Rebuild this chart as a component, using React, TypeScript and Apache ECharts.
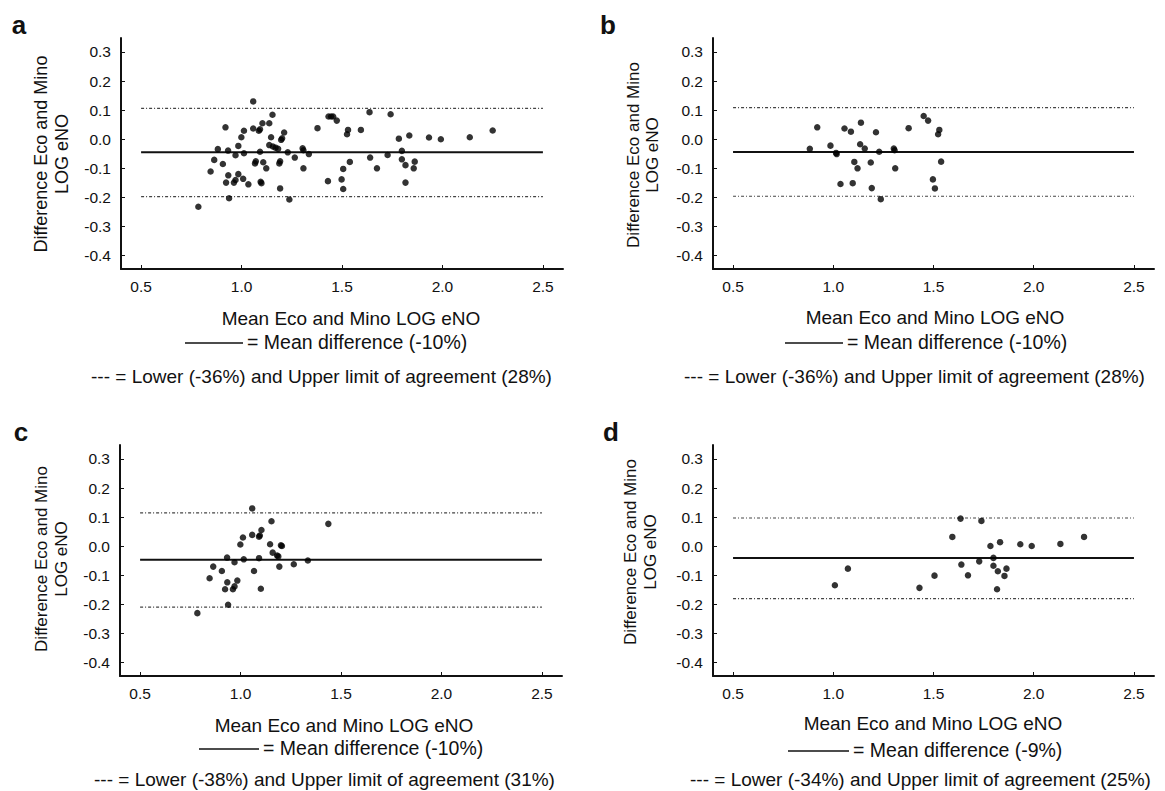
import React, { useEffect, useRef } from "react";
import * as echarts from "echarts";

const FONT = '"Liberation Sans", Arial, Helvetica, sans-serif';

// Tick values
const xTicks = [0.5, 1.0, 1.5, 2.0, 2.5];
const yTicks = [-0.4, -0.3, -0.2, -0.1, 0.0, 0.1, 0.2, 0.3];

// Panel letters and texts
const panelLetters = ["a", "b", "c", "d"];
const xAxisTitle = "Mean Eco and Mino LOG eNO";
const yAxisTitle = "Difference Eco and Mino\nLOG eNO";
const meanLabels = [
  "= Mean difference (-10%)",
  "= Mean difference (-10%)",
  "= Mean difference (-10%)",
  "= Mean difference (-9%)",
];
const limitLabels = [
  "--- = Lower (-36%) and Upper limit of agreement (28%)",
  "--- = Lower (-36%) and Upper limit of agreement (28%)",
  "--- = Lower (-38%) and Upper limit of agreement (31%)",
  "--- = Lower (-34%) and Upper limit of agreement (25%)",
];

// Mean difference and limits of agreement (log scale)
const meanDiff = [-0.045, -0.044, -0.046, -0.040];
const upperLimit = [0.106, 0.109, 0.115, 0.097];
const lowerLimit = [-0.197, -0.196, -0.209, -0.180];
const lineRange = [0.5, 2.5];

// Scatter points [mean, difference]
const pointsA = [
  [0.785, -0.232], [0.846, -0.111], [0.864, -0.071], [0.882, -0.034], [0.907, -0.085],
  [0.920, 0.041], [0.923, -0.149], [0.934, -0.124], [0.933, -0.039], [0.938, -0.203],
  [0.962, -0.149], [0.970, -0.140], [0.970, -0.055], [0.984, -0.023], [0.984, -0.120],
  [0.999, 0.007], [1.008, -0.136], [1.012, 0.029], [1.012, -0.048], [1.034, -0.155],
  [1.058, 0.130], [1.058, 0.037], [1.067, -0.083], [1.071, -0.076], [1.086, 0.029],
  [1.092, 0.034], [1.092, -0.043], [1.095, -0.146], [1.099, -0.151], [1.104, 0.055],
  [1.108, -0.079], [1.123, -0.100], [1.138, 0.055], [1.138, -0.020], [1.147, 0.007],
  [1.154, 0.084], [1.156, -0.025], [1.169, -0.029], [1.182, -0.033], [1.188, -0.083],
  [1.192, -0.076], [1.192, -0.169], [1.197, -0.002], [1.202, 0.003], [1.212, 0.023],
  [1.230, -0.045], [1.238, -0.207], [1.265, -0.063], [1.304, -0.031], [1.308, -0.038],
  [1.308, -0.100], [1.335, -0.051], [1.378, 0.038], [1.430, -0.144], [1.433, 0.078],
  [1.446, 0.078], [1.456, 0.078], [1.474, 0.064], [1.498, -0.138], [1.506, -0.102],
  [1.506, -0.171], [1.525, 0.017], [1.530, 0.032], [1.539, -0.078], [1.594, 0.032],
  [1.637, 0.093], [1.640, -0.063], [1.674, -0.100], [1.727, -0.054], [1.742, 0.086],
  [1.783, 0.002], [1.798, -0.040], [1.798, -0.069], [1.816, -0.089], [1.816, -0.149],
  [1.835, 0.013], [1.857, -0.100], [1.862, -0.077], [1.933, 0.006], [1.992, 0.000],
  [2.136, 0.007], [2.250, 0.030],
];

const pointsB = [
  [0.883, -0.033], [0.920, 0.041], [0.986, -0.022], [1.014, -0.047], [1.017, -0.051],
  [1.036, -0.154], [1.056, 0.037], [1.088, 0.026], [1.097, -0.151], [1.105, -0.078],
  [1.121, -0.100], [1.134, -0.017], [1.138, 0.057], [1.157, -0.032], [1.187, -0.080],
  [1.192, -0.168], [1.213, 0.024], [1.229, -0.043], [1.237, -0.206], [1.302, -0.032],
  [1.306, -0.038], [1.309, -0.100], [1.376, 0.038], [1.451, 0.080], [1.473, 0.064],
  [1.497, -0.138], [1.507, -0.169], [1.523, 0.017], [1.529, 0.032], [1.538, -0.077],
];

const pointsC = [
  [0.785, -0.230], [0.846, -0.110], [0.864, -0.070], [0.907, -0.085], [0.933, -0.039],
  [0.923, -0.148], [0.934, -0.124], [0.938, -0.201], [0.962, -0.148], [0.970, -0.138],
  [0.970, -0.055], [0.984, -0.118], [0.999, 0.006], [1.012, 0.030], [1.016, -0.045],
  [1.058, 0.130], [1.058, 0.039], [1.067, -0.085], [1.092, 0.033], [1.096, 0.037],
  [1.092, -0.041], [1.104, 0.056], [1.101, -0.146], [1.147, 0.007], [1.154, 0.086],
  [1.160, -0.022], [1.182, -0.032], [1.188, -0.035], [1.193, -0.070], [1.201, 0.003],
  [1.206, 0.001], [1.265, -0.062], [1.335, -0.049], [1.437, 0.077],
];

const pointsD = [
  [1.008, -0.134], [1.073, -0.077], [1.430, -0.143], [1.505, -0.101], [1.594, 0.032],
  [1.635, 0.095], [1.639, -0.063], [1.672, -0.100], [1.728, -0.052], [1.739, 0.087],
  [1.784, 0.001], [1.799, -0.040], [1.799, -0.067], [1.821, -0.086], [1.817, -0.148],
  [1.832, 0.014], [1.854, -0.102], [1.864, -0.077], [1.933, 0.007], [1.990, 0.001],
  [2.133, 0.008], [2.251, 0.032],
];

const panelPoints = [pointsA, pointsB, pointsC, pointsD];

// Layout (pixels)
const layout = [
  { grid: { left: 121, top: 38, width: 442, height: 231 }, letter: [19, 25], yName: [51, 154, 18, 21], xName: [351, 318], leg1: [185, 243, 342], leg2: [91, 376] },
  { grid: { left: 713, top: 38, width: 441, height: 231 }, letter: [608, 25], yName: [643, 155, 17, 19], xName: [935, 317], leg1: [785, 843, 342], leg2: [684, 376] },
  { grid: { left: 120, top: 445, width: 442, height: 231 }, letter: [21, 432], yName: [51, 559, 17, 20], xName: [344, 725], leg1: [199, 259, 748], leg2: [94, 779] },
  { grid: { left: 713, top: 445, width: 441, height: 231 }, letter: [611, 432], yName: [640, 552, 17, 20], xName: [933, 723], leg1: [788, 849, 750], leg2: [690, 779] },
];

const TEXT = "#111";

function txt(x: number, y: number, text: string, size: number, align: string, extra: any = {}) {
  return {
    type: "text",
    x,
    y,
    style: {
      text,
      fill: TEXT,
      font: `${extra.bold ? "bold " : ""}${size}px ${FONT}`,
      textAlign: align,
      textVerticalAlign: "middle",
      align,
      verticalAlign: "middle",
    },
  };
}

export default function App() {
  const ref = useRef<HTMLDivElement>(null);

  useEffect(() => {
    if (!ref.current) return;
    const chart = echarts.init(ref.current, undefined, { renderer: "svg" });

    const grids = layout.map((l) => ({ ...l.grid }));
    const xAxes = layout.map((_, i) => ({
      type: "value",
      gridIndex: i,
      min: 0.4,
      max: 2.6,
      axisLine: { onZero: false, lineStyle: { color: "#111", width: 2 } },
      axisTick: { inside: true, length: 4, customValues: xTicks, lineStyle: { color: "#111", width: 1 } },
      axisLabel: {
        customValues: xTicks,
        formatter: (v: number) => v.toFixed(1),
        fontSize: 15.5,
        fontFamily: FONT,
        color: TEXT,
        margin: 9,
      },
      splitLine: { show: false },
    }));
    const yAxes = layout.map((_, i) => ({
      type: "value",
      gridIndex: i,
      min: -0.446,
      max: 0.348,
      axisLine: { onZero: false, lineStyle: { color: "#111", width: 2 } },
      axisTick: { inside: true, length: 4, customValues: yTicks, lineStyle: { color: "#111", width: 1 } },
      axisLabel: {
        customValues: yTicks,
        formatter: (v: number) => v.toFixed(1),
        fontSize: 15.5,
        fontFamily: FONT,
        color: TEXT,
        margin: 10,
      },
      splitLine: { show: false },
    }));

    const series: any[] = [];
    panelPoints.forEach((pts, i) => {
      series.push({
        type: "scatter",
        xAxisIndex: i,
        yAxisIndex: i,
        data: pts,
        symbol: "circle",
        symbolSize: 6.5,
        itemStyle: { color: "#000" },
        z: 5,
      });
      series.push({
        type: "line",
        xAxisIndex: i,
        yAxisIndex: i,
        data: lineRange.map((x) => [x, meanDiff[i]]),
        symbol: "none",
        lineStyle: { color: "#111", width: 2 },
      });
      [upperLimit[i], lowerLimit[i]].forEach((v) => {
        series.push({
          type: "line",
          xAxisIndex: i,
          yAxisIndex: i,
          data: lineRange.map((x) => [x, v]),
          symbol: "none",
          lineStyle: { color: "#444", width: 1.2, type: [3, 2, 1, 2] },
        });
      });
    });

    const graphics: any[] = [];
    layout.forEach((l, i) => {
      graphics.push(txt(l.letter[0], l.letter[1], panelLetters[i], 26, "center", { bold: true }));
      graphics.push({
        type: "text",
        x: l.yName[0],
        y: l.yName[1],
        rotation: Math.PI / 2,
        style: {
          text: yAxisTitle,
          fill: TEXT,
          font: `${l.yName[2]}px ${FONT}`,
          textAlign: "center",
          textVerticalAlign: "middle",
          align: "center",
          verticalAlign: "middle",
          lineHeight: l.yName[3],
        },
      });
      graphics.push(txt(l.xName[0], l.xName[1], xAxisTitle, 19, "center"));
      graphics.push({
        type: "line",
        shape: { x1: l.leg1[0], y1: l.leg1[2] + 1, x2: l.leg1[1], y2: l.leg1[2] + 1 },
        style: { stroke: "#111", lineWidth: 1.6 },
      });
      graphics.push(txt(l.leg1[1] + 4, l.leg1[2], meanLabels[i], 19.5, "left"));
      graphics.push(txt(l.leg2[0], l.leg2[1], limitLabels[i], 19, "left"));
    });

    chart.setOption({
      animation: false,
      backgroundColor: "#fff",
      grid: grids,
      xAxis: xAxes,
      yAxis: yAxes,
      series,
      graphic: graphics,
    });

    return () => chart.dispose();
  }, []);

  return (
    <div
      ref={ref}
      style={{ position: "absolute", left: 0, top: 0, width: 1165, height: 791 }}
    />
  );
}
